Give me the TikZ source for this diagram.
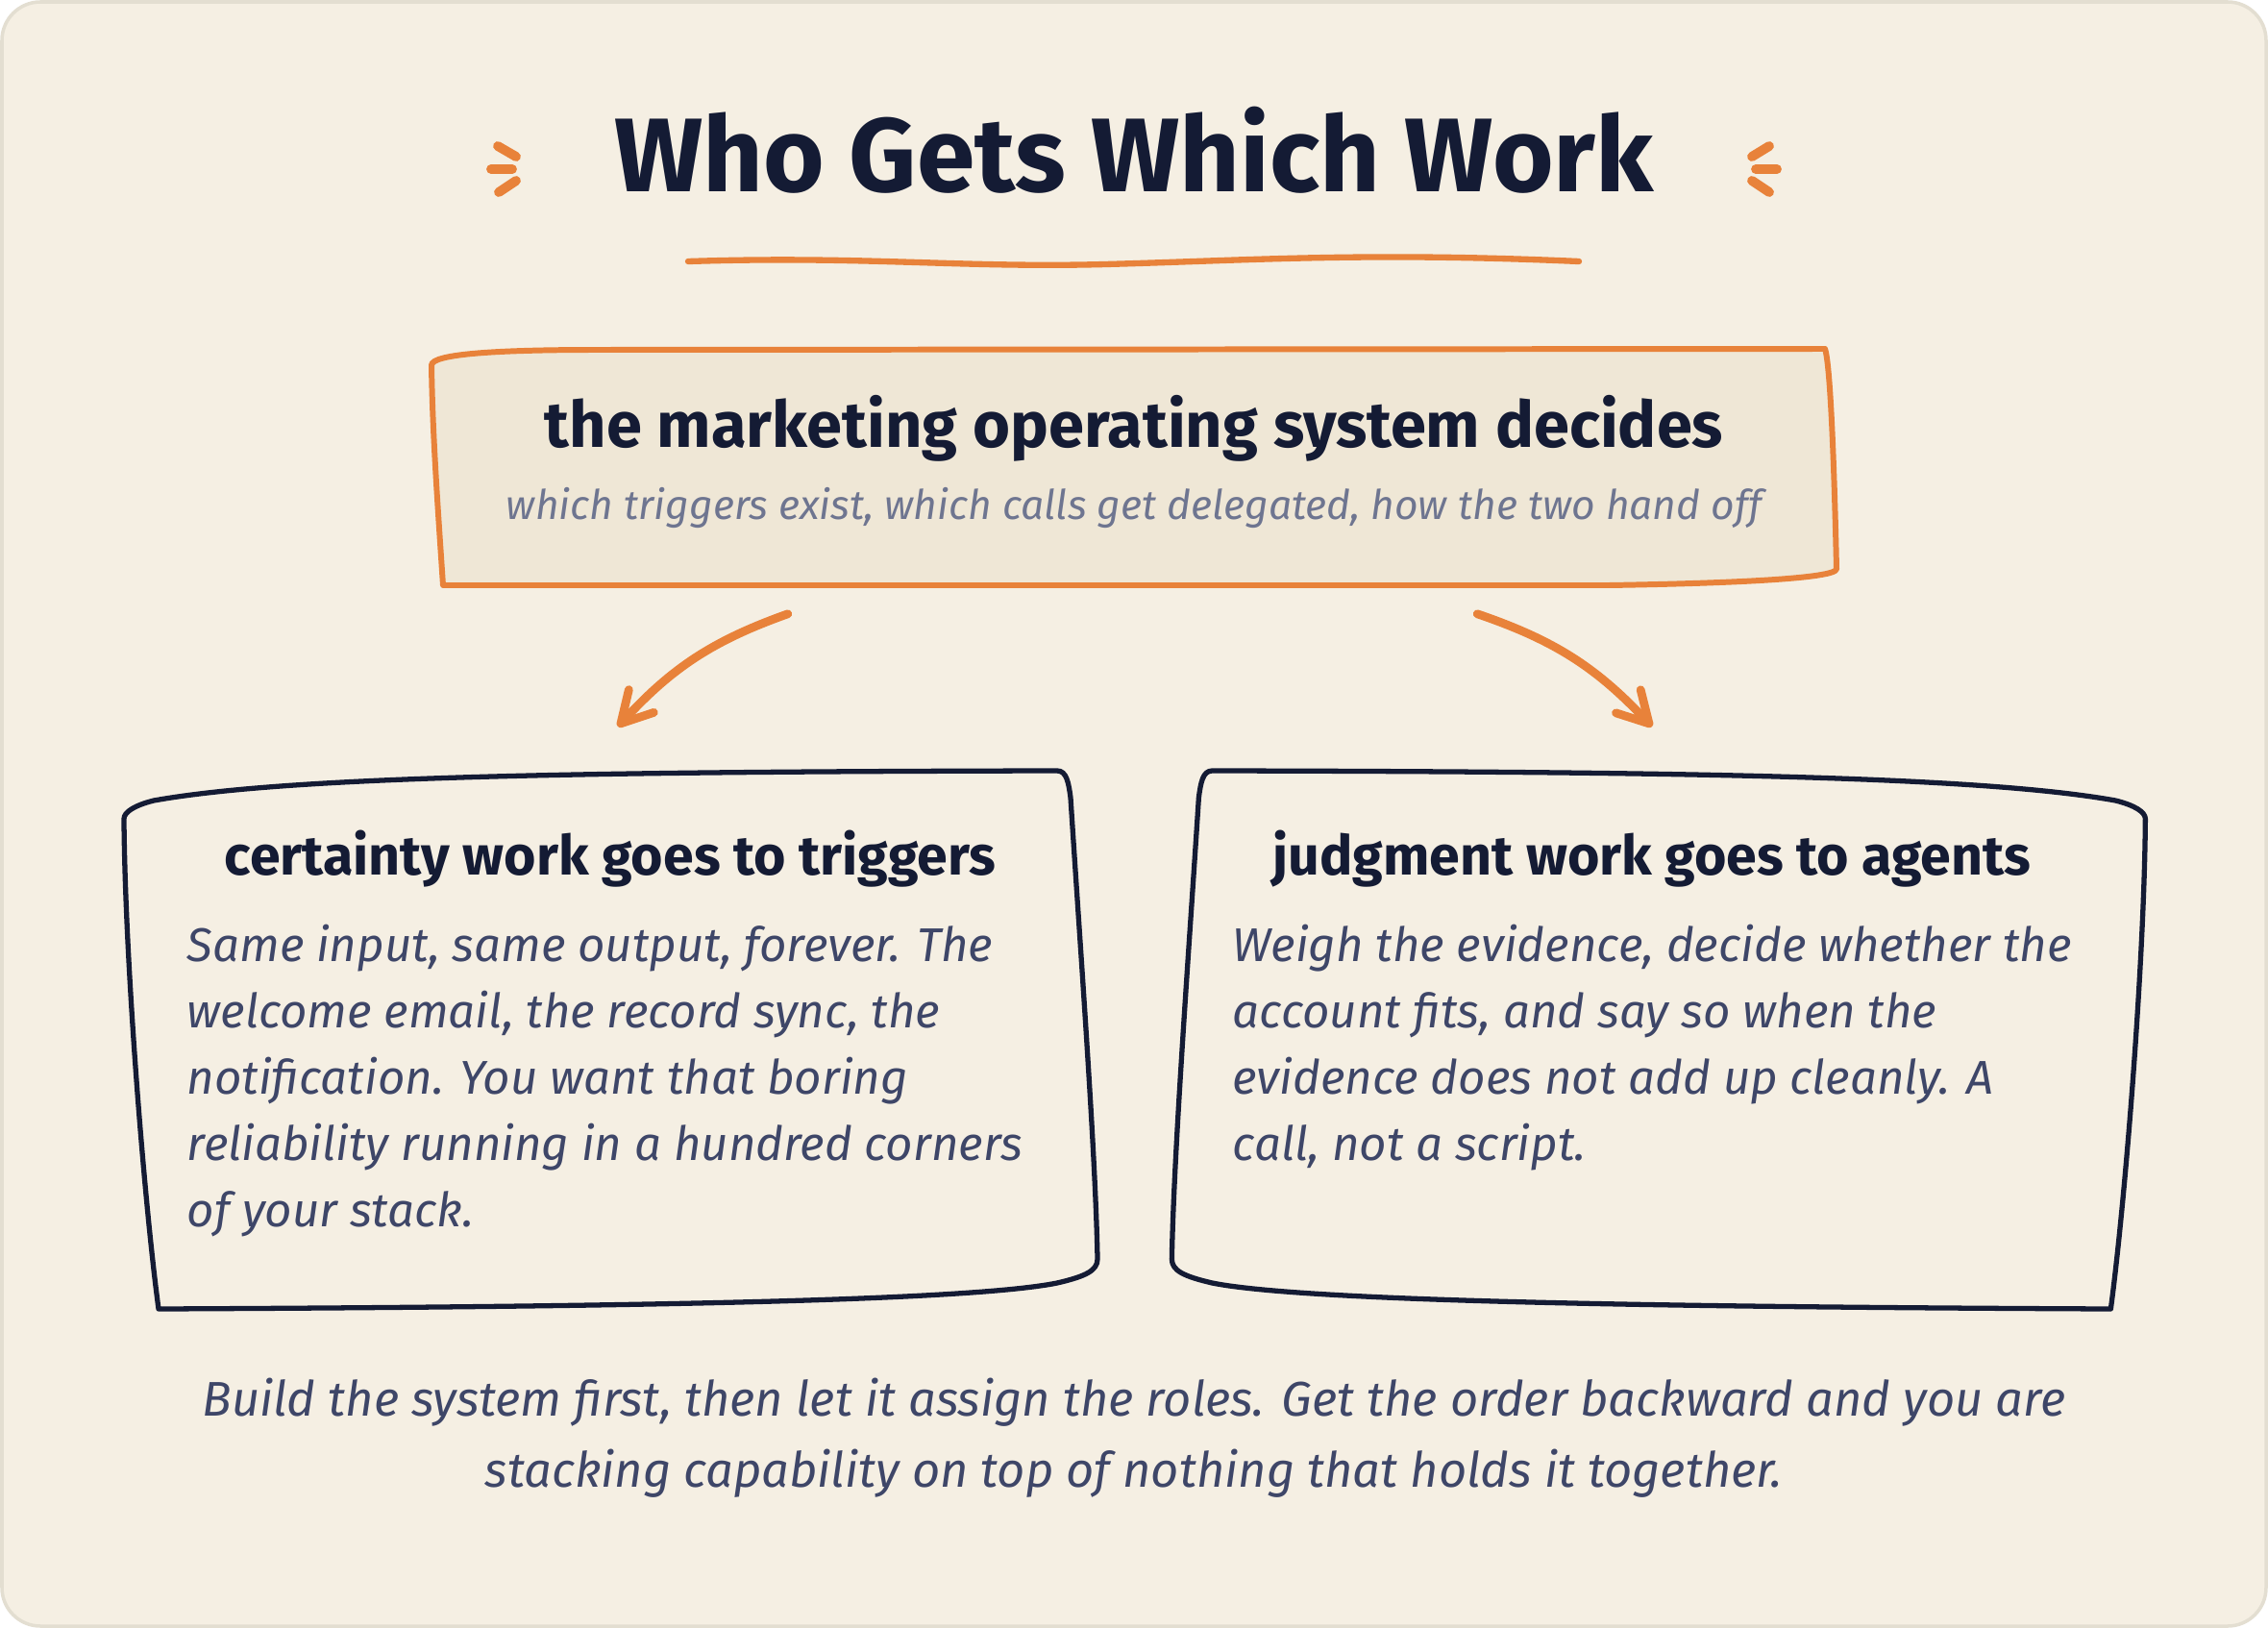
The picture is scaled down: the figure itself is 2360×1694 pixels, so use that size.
\documentclass[tikz,border=0pt]{standalone}
\usepackage{fontspec}
\setmainfont{Fira Sans}
\usepackage{tikz}
\usetikzlibrary{arrows.meta, positioning}
\definecolor{paper}{HTML}{F5EFE3}
\definecolor{paperedge}{HTML}{E3DED1}
\definecolor{boxfill}{HTML}{EFE7D6}
\definecolor{accent}{HTML}{E8823A}
\definecolor{ink}{HTML}{141B34}
\definecolor{bodyink}{HTML}{3E4668}
\definecolor{mutedink}{HTML}{6E7590}
\tikzstyle{arrow} = [line width=2.5pt, line cap=round, draw=accent, -{Straight Barb[length=9pt, width=10pt, line cap=round, line join=round]}]
\tikzstyle{tick} = [line width=2.8pt, line cap=round, draw=accent]
\tikzstyle{frame} = [rectangle, draw=none, inner sep=0pt]
\newcommand{\headfont}[1]{\fontsize{#1}{1.2\dimexpr#1\relax}\selectfont\bfseries\color{ink}}
\newcommand{\bodyfont}{\fontsize{14pt}{19.6pt}\selectfont\itshape\color{bodyink}}

\begin{document}
\begin{tikzpicture}[x=0.01cm, y=-0.01cm]
    \useasboundingbox (0,0) rectangle (2360,1694);
    \draw[fill=paper, draw=paperedge, line width=1pt, rounded corners=0.4cm] (2,2) rectangle (2358,1692);

    % title with side marks
    \node (title) [anchor=base, font={\headfont{31pt}}] at (1180,200) {Who Gets Which Work};
    \draw[tick] (518,152) -- (537,163);
    \draw[tick] (511,176) -- (533,176);
    \draw[tick] (537,188) -- (519,200);
    \draw[tick] (1841,152) -- (1823,163);
    \draw[tick] (1827,176) -- (1849,176);
    \draw[tick] (1823,188) -- (1841,200);
    \draw[line width=1.8pt, line cap=round, draw=accent] (716,272) .. controls (900,266) and (1000,279) .. (1150,275) .. controls (1300,271) and (1420,262) .. (1643,272);

    % top box
    \draw[fill=boxfill, draw=accent, line width=1.7pt, line join=round] (449,380) .. controls (449,368) and (520,364) .. (621,364) -- (1899,363) .. controls (1905,380) and (1909,500) .. (1911,592) .. controls (1911,602) and (1800,607) .. (1674,609) -- (461,609) .. controls (455,520) and (450,450) .. cycle;
    \node (sysbox) [frame, minimum width=14.64cm, minimum height=2.46cm] at (1179,486) {};
    \node (systitle) [anchor=base, font={\headfont{19pt}}] at (1180,465) {the marketing operating system decides};
    \node (syssub) [anchor=base, font=\fontsize{12.1pt}{15pt}\selectfont\itshape\color{mutedink}] at (1180,540) {which triggers exist, which calls get delegated, how the two hand off};

    % wobbly cards
    \draw[fill=paper, draw=ink, line width=1.5pt, line join=round] (129,852) .. controls (129,845) and (140,838) .. (160,833) .. controls (300,808) and (600,803) .. (1100,802) .. controls (1110,802) and (1112,815) .. (1114,830) .. controls (1125,1000) and (1140,1200) .. (1142,1310) .. controls (1142,1322) and (1130,1328) .. (1100,1335) .. controls (1000,1355) and (600,1360) .. (165,1362) .. controls (150,1250) and (130,1000) .. cycle;
    \begin{scope}[xshift=23.6cm, xscale=-1]
        \draw[fill=paper, draw=ink, line width=1.5pt, line join=round] (129,852) .. controls (129,845) and (140,838) .. (160,833) .. controls (300,808) and (600,803) .. (1100,802) .. controls (1110,802) and (1112,815) .. (1114,830) .. controls (1125,1000) and (1140,1200) .. (1142,1310) .. controls (1142,1322) and (1130,1328) .. (1100,1335) .. controls (1000,1355) and (600,1360) .. (165,1362) .. controls (150,1250) and (130,1000) .. cycle;
    \end{scope}
    \node (certbox) [frame, minimum width=10.15cm, minimum height=5.6cm] at (636,1082) {};
    \node (judgebox) [frame, minimum width=10.15cm, minimum height=5.6cm] at (1724,1082) {};

    \node (certhead) [anchor=base, font={\headfont{16.3pt}}] at (635,910) {certainty work goes to triggers};
    \node (certbody) [anchor=base west, align=left, inner sep=0pt, font=\bodyfont] at (194,1276) {Same input, same output, forever. The\\welcome email, the record sync, the\\notification. You want that boring\\reliability running in a hundred corners\\of your stack.};
    \node (judgehead) [anchor=base, font={\headfont{16.3pt}}] at (1719,910) {judgment work goes to agents};
    \node (judgebody) [anchor=base west, align=left, inner sep=0pt, font=\bodyfont] at (1282,1207) {Weigh the evidence, decide whether the\\account fits, and say so when the\\evidence does not add up cleanly. A\\call, not a script.};

    \draw [arrow] ([shift={(-3.59cm,-0.29cm)}]sysbox.south) to[bend right=14] ([shift={(0.07cm,0.45cm)}]certbox.north);
    \draw [arrow] ([shift={(3.58cm,-0.29cm)}]sysbox.south) to[bend left=14] ([shift={(-0.05cm,0.45cm)}]judgebox.north);

    % closing line
    \node (footer) [anchor=base, align=center, inner sep=0pt, font=\fontsize{14.4pt}{21pt}\selectfont\itshape\color{bodyink}] at (1180,1547) {Build the system first, then let it assign the roles. Get the order backward and you are\\stacking capability on top of nothing that holds it together.};
\end{tikzpicture}
\end{document}
